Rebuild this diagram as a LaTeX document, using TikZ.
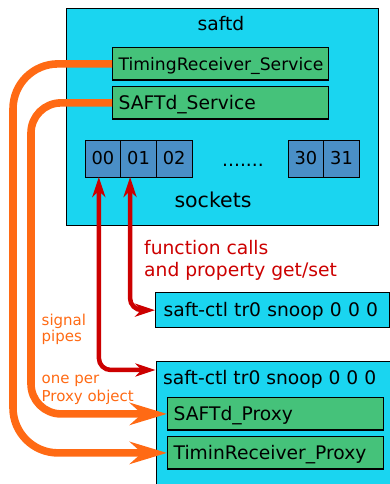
\documentclass[tikz,border=0pt]{standalone}
\usepackage{fontspec}
\setmainfont{DejaVu Sans}
\usetikzlibrary{arrows.meta,positioning}
\definecolor{Saftcyan}{HTML}{1AD5F0}
\definecolor{Svcgreen}{HTML}{45C27A}
\definecolor{Sockblue}{HTML}{4A8FC7}
\definecolor{Pipeorange}{HTML}{FF6A14}
\definecolor{Callred}{HTML}{CC0000}

\begin{document}
\begin{tikzpicture}
[x=1pt,y=1pt,
every node/.style={font=\fontsize{18.7}{22.5}\selectfont},
process/.style={draw,fill=Saftcyan,line width=1.3pt,anchor=north west,inner sep=0pt},
service/.style={draw,fill=Svcgreen,line width=1.3pt,anchor=north west,minimum height=32.5pt,
    text width=204pt,inner xsep=6pt,align=left,text height=15pt,text depth=2.5pt},
socket/.style={draw,fill=Sockblue,line width=0.9pt,outer sep=0pt,inner sep=0pt,anchor=west,
    minimum width=35.7pt,minimum height=37pt,font=\fontsize{17.8}{20}\selectfont},
ctl/.style={process,minimum width=234pt,minimum height=35pt,text width=218pt,inner xsep=8pt,
    align=left,text height=15pt,text depth=2.5pt},
pipe/.style={Pipeorange,line width=7.6pt,-{Stealth[length=37pt,width=22pt,inset=12pt]}},
call/.style={Callred,line width=4.5pt,rounded corners=12pt,
    >={Stealth[length=20pt,width=13pt,inset=6pt]},<->},
note/.style={align=left,inner sep=0pt,anchor=north west}]

\useasboundingbox (0,0) rectangle (390,484);
\clip (0,0) rectangle (390,484);

%% the daemon
\node[process,minimum width=312pt,minimum height=217pt] (saftd) at (66,476) {};
\node[anchor=base] (saftdname) at (221,453) {saftd};
\node[service,font=\fontsize{17.2}{20}\selectfont] (trs) at (112,437) {TimingReceiver\_Service};
\node[service] (sds) at (112,398) {SAFTd\_Service};

%% sockets
\node[socket] (s00) at (85,325.5) {00};
\node[socket,right=0pt of s00] (s01) {01};
\node[socket,right=0pt of s01] (s02) {02};
\node[anchor=base] (dots) at (243,317) {.......};
\node[socket] (s30) at (288,325.5) {30};
\node[socket,right=0pt of s30] (s31) {31};
\node[anchor=base,font=\fontsize{20.5}{24}\selectfont] (sockname) at (213,276) {sockets};

%% clients
\node[ctl] (sc1) at (155,192) {saft-ctl tr0 snoop 0 0 0};
\node[process,minimum width=234pt,minimum height=140pt] (sc2) at (155.5,123) {};
\node[anchor=base west,inner sep=0pt] (sc2name) at (163,99) {saft-ctl tr0 snoop 0 0 0};
\node[service] (sdp) at (167,87) {SAFTd\_Proxy};
\node[service] (trp) at (167,48) {TiminReceiver\_Proxy};

%% signal pipes
\draw[pipe,rounded corners=45pt] (trs.west) -- ++(-99,0) |- (trp.west);
\draw[pipe,rounded corners=30pt] (sds.west) -- ++(-81,0) |- (sdp.west);

%% function calls
\draw[call] ([xshift=-8.5pt]s01.south) |- (sc1.west);
\draw[call] ([xshift=-4pt]s00.south) |- ([yshift=-9pt]sc2.north west);

%% explanation
\node[note,text=Callred] (calls) at (144,244.3) {function calls\\and property get/set};
\node[note,text=Pipeorange,font=\fontsize{15}{16.8}\selectfont] (pipes) at (41.5,170.4) {signal\\pipes};
\node[note,text=Pipeorange,font=\fontsize{15}{18.5}\selectfont] (perproxy) at (41.5,109.4) {one per\\Proxy object};

\end{tikzpicture}
\end{document}
